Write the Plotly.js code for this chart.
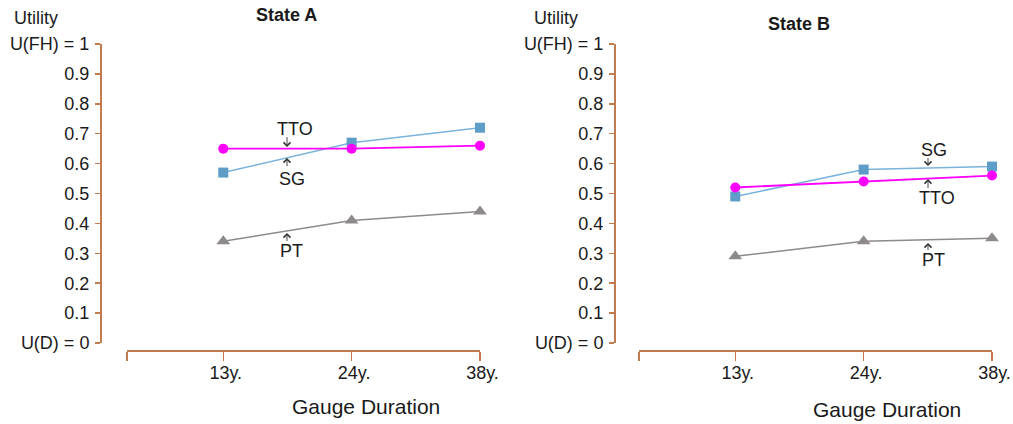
<!DOCTYPE html>
<html>
<head>
<meta charset="utf-8">
<script src="https://cdn.plot.ly/plotly-3.0.1.min.js"></script>
<style>
html,body{margin:0;padding:0;background:#fff;}
#chart{width:1013px;height:424px;}
</style>
</head>
<body>
<div id="chart"></div>
<script>
// ---- data ----
const categories = ['13y.', '24y.', '38y.'];
const yTickVals = [0, 0.1, 0.2, 0.3, 0.4, 0.5, 0.6, 0.7, 0.8, 0.9, 1];
const yTickText = ['U(D) = 0', '0.1', '0.2', '0.3', '0.4', '0.5', '0.6', '0.7', '0.8', '0.9', 'U(FH) = 1'];

const stateA_TTO = [0.65, 0.65, 0.66];
const stateA_SG  = [0.57, 0.67, 0.72];
const stateA_PT  = [0.34, 0.41, 0.44];

const stateB_TTO = [0.52, 0.54, 0.56];
const stateB_SG  = [0.49, 0.58, 0.59];
const stateB_PT  = [0.29, 0.34, 0.35];

const panelTitles = ['State A', 'State B'];
const xTitle = 'Gauge Duration';
const yTitle = 'Utility';

// ---- layout helpers ----
const W = 1013, H = 424;
const px = x => x / W;
const py = y => 1 - y / H;
const FONT = 'Liberation Sans, Arial, sans-serif';
const AXC = '#C27B4E';
const TXT = '#1a1a1a';

const xIdx = categories.map((c, i) => i);
const xTickVals = [-0.75].concat(xIdx);
const xTickText = [''].concat(categories.map(c => '&nbsp;' + c));

function series(y, xa, ya, kind) {
  const styles = {
    TTO: {line: {color: '#FF00FF', width: 1.8}, marker: {symbol: 'circle', size: 10, color: '#FF00FF'}},
    SG:  {line: {color: '#7AB3DB', width: 1.5}, marker: {symbol: 'square', size: 10, color: '#5F9DC9'}},
    PT:  {line: {color: '#8E8A8C', width: 1.5}, marker: {symbol: 'triangle-up', size: 12, color: '#8E8A8C'}}
  };
  return Object.assign({
    x: xIdx, y: y, xaxis: xa, yaxis: ya, type: 'scatter', mode: 'lines+markers',
    cliponaxis: false, showlegend: false, name: kind
  }, styles[kind]);
}

const traces = [
  series(stateA_PT, 'x', 'y', 'PT'),
  series(stateA_SG, 'x', 'y', 'SG'),
  series(stateA_TTO, 'x', 'y', 'TTO'),
  series(stateB_PT, 'x2', 'y2', 'PT'),
  series(stateB_SG, 'x2', 'y2', 'SG'),
  series(stateB_TTO, 'x2', 'y2', 'TTO')
];

function xAxis(x0, x1) {
  return {
    domain: [px(x0), px(x1)], range: [-0.75, 2], anchor: 'free', position: py(350),
    showline: true, linecolor: AXC, linewidth: 1.5, showgrid: false, zeroline: false,
    ticks: 'outside', ticklen: 9, tickwidth: 1.5, tickcolor: AXC,
    tickvals: xTickVals, ticktext: xTickText, ticklabelstandoff: -3,
    tickfont: {family: FONT, size: 18, color: TXT}, fixedrange: true
  };
}
function yAxis(xpos) {
  return {
    domain: [py(343), py(44)], range: [0, 1], anchor: 'free', position: px(xpos),
    showline: true, linecolor: AXC, linewidth: 1.5, showgrid: false, zeroline: false,
    ticks: 'outside', ticklen: 5, tickwidth: 1.5, tickcolor: AXC,
    tickvals: yTickVals, ticktext: yTickText, ticklabelstandoff: 2,
    tickfont: {family: FONT, size: 18, color: TXT}, fixedrange: true
  };
}

function txt(text, x, y, size, bold, xanchor) {
  return {
    xref: 'paper', yref: 'paper', x: px(x), y: py(y), text: bold ? '<b>' + text + '</b>' : text,
    showarrow: false, xanchor: xanchor || 'center', yanchor: 'middle',
    font: {family: FONT, size: size, color: TXT}
  };
}
function arrow(x, yTail, yTip) {
  return {
    xref: 'paper', yref: 'paper', x: px(x), y: py(yTip), ax: 0, ay: yTail - yTip,
    axref: 'pixel', ayref: 'pixel', text: ' ', font: {size: 1},
    showarrow: true, arrowhead: 4, arrowsize: 1.5, arrowwidth: 0.9, arrowcolor: '#333'
  };
}

const annotations = [
  txt(panelTitles[0], 286.5, 15, 18, true),
  txt(panelTitles[1], 798.5, 24, 18, true),
  txt(yTitle, 12, 18, 18, false, 'left'),
  txt(yTitle, 532, 18, 18, false, 'left'),
  txt(xTitle, 365.5, 406, 21, false),
  txt(xTitle, 887, 409, 21, false),
  // State A labels
  txt('TTO', 294.5, 129, 18, false), arrow(287, 135, 147),
  txt('SG', 292, 179, 18, false), arrow(287, 168, 158),
  txt('PT', 291.5, 251, 18, false), arrow(287, 243, 233),
  // State B labels
  txt('SG', 933.5, 150, 18, false), arrow(928, 156, 166),
  txt('TTO', 936.5, 198, 18, false), arrow(928, 190, 179),
  txt('PT', 933.5, 260, 18, false), arrow(928, 252, 243)
];

const layout = {
  width: W, height: H,
  margin: {l: 0, r: 0, t: 0, b: 0},
  paper_bgcolor: '#fff', plot_bgcolor: 'rgba(0,0,0,0)',
  showlegend: false,
  xaxis: xAxis(127, 480),
  yaxis: yAxis(100),
  xaxis2: xAxis(639, 992),
  yaxis2: yAxis(614),
  annotations: annotations
};

Plotly.newPlot('chart', traces, layout, {staticPlot: true, displayModeBar: false});
</script>
</body>
</html>
